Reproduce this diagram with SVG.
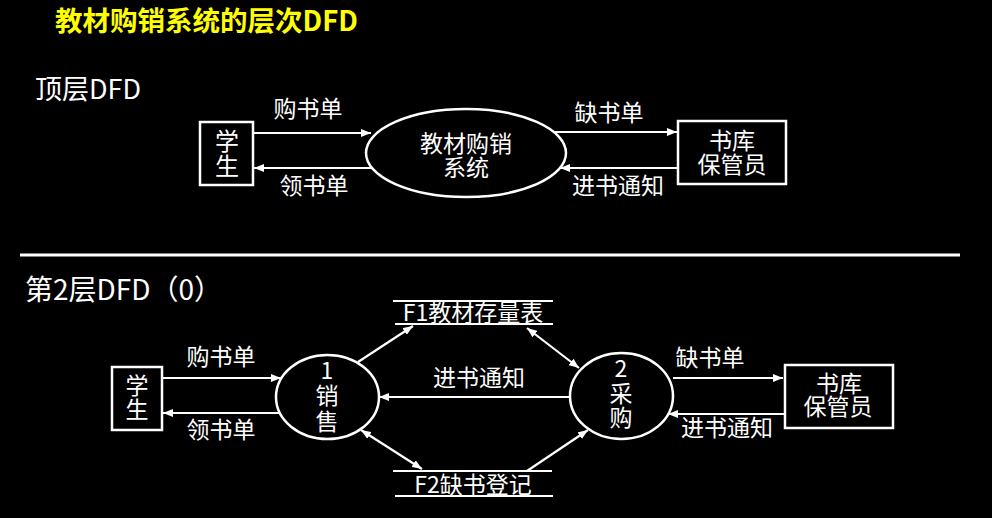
<svg xmlns="http://www.w3.org/2000/svg" width="992" height="518" viewBox="0 0 992 518">
<defs>
<marker id="ah" viewBox="0 0 10 8" refX="10" refY="4" markerWidth="10" markerHeight="8" markerUnits="userSpaceOnUse" orient="auto-start-reverse">
<path d="M0,0 L10,4 L0,8 z" fill="#fff"/>
</marker>
<style>
.t{font-family:"Noto Sans CJK SC","Liberation Sans",sans-serif;fill:#fff;font-size:23px;text-anchor:middle}
.h{font-family:"Noto Sans CJK SC","Liberation Sans",sans-serif;fill:#fff;font-size:27px}
.s{fill:none;stroke:#fff;stroke-width:2.5}
.c{fill:none;stroke:#fff;stroke-width:2.2}
.a{marker-end:url(#ah)}
.b{marker-start:url(#ah);marker-end:url(#ah)}
</style>
</defs>
<rect width="992" height="518" fill="#000"/>
<text x="55" y="31" style="font-family:'Noto Sans CJK SC','Liberation Sans',sans-serif;font-weight:bold;font-size:27.5px;fill:#ffff00">教材购销系统的层次DFD</text>
<text class="h" x="35" y="99">顶层DFD</text>
<line x1="20" y1="255" x2="960" y2="255" stroke="#fff" stroke-width="3"/>
<text class="h" x="25" y="300" style="font-size:28px">第2层DFD（0）</text>

<g id="top-student">
<rect class="s" x="200" y="122" width="53" height="63"/>
<text class="t" style="font-size:24px"><tspan x="227" y="150">学</tspan><tspan x="227" y="175">生</tspan></text>
</g>
<g id="top-system">
<ellipse class="s" cx="466" cy="153" rx="100" ry="44"/>
<text class="t"><tspan x="466" y="152">教材购销</tspan><tspan x="466" y="176">系统</tspan></text>
</g>
<g id="top-keeper">
<rect class="s" x="678" y="121" width="108" height="63"/>
<text class="t"><tspan x="732" y="149">书库</tspan><tspan x="732" y="173">保管员</tspan></text>
</g>

<g id="bot-student">
<rect class="s" x="112" y="367" width="50" height="63"/>
<text class="t"><tspan x="137" y="394">学</tspan><tspan x="137" y="418">生</tspan></text>
</g>
<g id="p1">
<ellipse class="s" cx="327.5" cy="397" rx="51.5" ry="42"/>
<text class="t"><tspan x="327" y="379">1</tspan><tspan x="327" y="404">销</tspan><tspan x="327" y="430">售</tspan></text>
</g>
<g id="p2">
<ellipse class="s" cx="621.5" cy="396" rx="51.5" ry="43"/>
<text class="t"><tspan x="621" y="377">2</tspan><tspan x="621" y="402">采</tspan><tspan x="621" y="426">购</tspan></text>
</g>
<g id="bot-keeper">
<rect class="s" x="785" y="365" width="108" height="63"/>
<text class="t"><tspan x="839" y="392">书库</tspan><tspan x="838" y="415">保管员</tspan></text>
</g>
<g id="f1">
<line class="c" x1="393" y1="301" x2="553" y2="301"/>
<line class="c" x1="395" y1="324" x2="553" y2="324"/>
<text class="t" x="473" y="321">F1教材存量表</text>
</g>
<g id="f2">
<line class="c" x1="393" y1="471" x2="552" y2="471"/>
<line class="c" x1="395" y1="496" x2="553" y2="496"/>
<text class="t" x="473" y="493">F2缺书登记</text>
</g>

<g id="connectors">
<line class="c a" x1="253" y1="133" x2="371" y2="133"/>
<line class="c a" x1="372" y1="168" x2="254" y2="168"/>
<line class="c a" x1="555" y1="132" x2="677" y2="132"/>
<line class="c a" x1="678" y1="168" x2="560" y2="168"/>

<line class="c a" x1="162" y1="378" x2="281" y2="378"/>
<line class="c a" x1="280" y1="413" x2="163" y2="413"/>
<line class="c a" x1="570" y1="397" x2="379" y2="397"/>
<line class="c a" x1="358" y1="362" x2="413" y2="326"/>
<line class="c b" x1="527" y1="328" x2="579" y2="368"/>
<line class="c b" x1="361" y1="430" x2="422" y2="469"/>
<line class="c a" x1="527" y1="471" x2="588" y2="430"/>
<line class="c a" x1="673" y1="378" x2="783" y2="378"/>
<line class="c a" x1="785" y1="414" x2="668" y2="414"/>
</g>
<g id="labels">
<text class="t" x="308" y="117">购书单</text>
<text class="t" x="314" y="194">领书单</text>
<text class="t" x="609" y="121">缺书单</text>
<text class="t" x="618" y="194">进书通知</text>
<text class="t" x="221" y="365">购书单</text>
<text class="t" x="221" y="438">领书单</text>
<text class="t" x="479" y="386">进书通知</text>
<text class="t" x="710" y="366">缺书单</text>
<text class="t" x="727" y="436">进书通知</text>
</g>
</svg>
